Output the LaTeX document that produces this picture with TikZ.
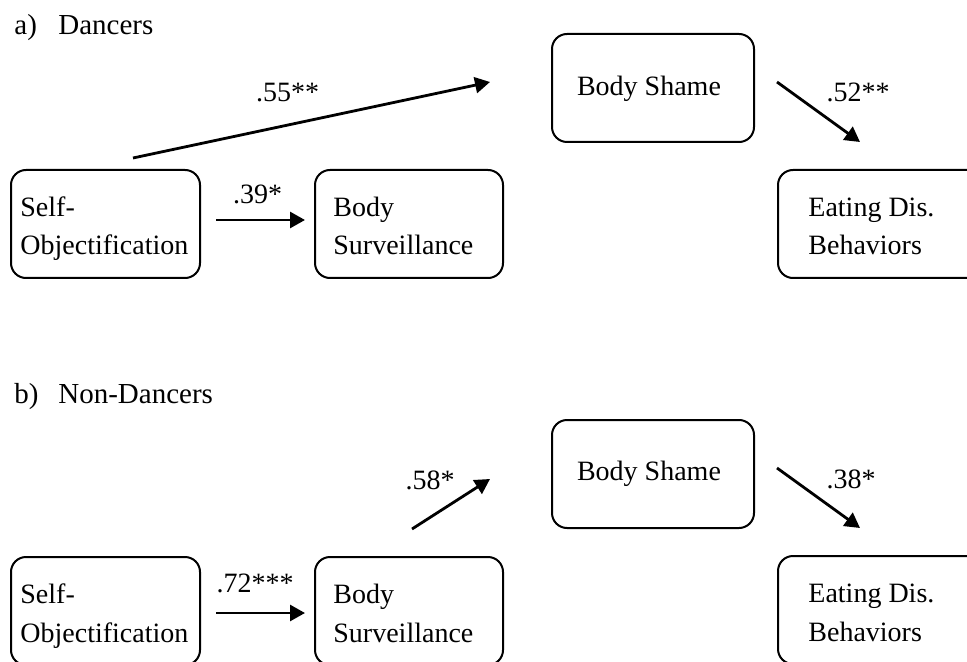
\documentclass[tikz,border=0pt]{standalone}
\usepackage{fontspec}
\setmainfont{Liberation Serif}
\usetikzlibrary{calc,arrows.meta}
\begin{document}
\begin{tikzpicture}[x=0.5pt,y=-0.5pt,
  box/.style={draw, line width=1pt, rounded corners=7.5pt, inner sep=0pt, outer sep=0pt, anchor=north west, minimum height=54pt},
  txt/.style={inner sep=0pt, anchor=base west, font=\fontsize{14}{17}\selectfont},
  lbl/.style={inner sep=0pt, anchor=base, font=\fontsize{14}{17}\selectfont},
  ttl/.style={inner sep=0pt, anchor=base west, font=\fontsize{14.5}{17}\selectfont},
  arr/.style={line width=1.4pt, -{Triangle[length=7.5pt,width=8pt]}}]
\useasboundingbox (0,0) rectangle (967,662);
\clip (0,0) rectangle (967,662);

% ---------- a) Dancers ----------
\node[ttl] (ta) at (14,35) {a)};
\node[ttl] (tad) at (58,35) {Dancers};

\node[box, minimum width=94.5pt] (so) at (11,170) {};
\node[box, minimum width=94pt] (bs) at (315,170) {};
\node[box, minimum width=101pt] (sh) at (552,34) {};
\node[box, minimum width=110pt] (ed) at (778,170) {};

\node[txt] (so1) at (20,217) {Self-};
\node[txt] (so2t) at (20,255) {Objectification};
\node[txt] (bs1) at (333,217) {Body};
\node[txt] (bs2t) at (333,255) {Surveillance};
\node[lbl] (sht) at (649,96) {Body Shame};
\node[txt] (ed1) at (808,217) {Eating Dis.};
\node[txt] (ed2t) at (808,255) {Behaviors};

\coordinate (a1s) at ($(so.east)+(16,-4)$);
\coordinate (a1e) at ($(bs.west)+(-10,-4)$);
\coordinate (a2s) at ($(so.north)+(27.5,-12)$);
\coordinate (a2e) at ($(sh.west)+(-62,-6)$);
\coordinate (a3s) at ($(sh.east)+(23,-6)$);
\coordinate (a3e) at ($(ed.north west)+(82,-28)$);

\draw[arr] (a1s) -- (a1e);
\draw[arr] (a2s) -- (a2e);
\draw[arr] (a3s) -- (a3e);

\node[lbl] (l55) at (287.5,102) {.55**};
\node[lbl] (l39) at (257.5,204) {.39*};
\node[lbl] (l52) at (858,102) {.52**};

% ---------- b) Non-Dancers ----------
\node[ttl] (tb) at (14,403) {b)};
\node[ttl] (tbn) at (58,403) {Non-Dancers};

\node[box, minimum width=94.5pt] (sob) at (11,557) {};
\node[box, minimum width=94pt] (bsb) at (315,557) {};
\node[box, minimum width=101pt] (shb) at (552,420) {};
\node[box, minimum width=110pt] (edb) at (778,556) {};

\node[txt] (sob1) at (20,603) {Self-};
\node[txt] (sob2) at (20,642) {Objectification};
\node[txt] (bsb1) at (333,603) {Body};
\node[txt] (bsb2) at (333,642) {Surveillance};
\node[lbl] (shbt) at (649,480) {Body Shame};
\node[txt] (edb1) at (808,602) {Eating Dis.};
\node[txt] (edb2) at (808,641) {Behaviors};

\coordinate (b1s) at ($(sob.east)+(16,2)$);
\coordinate (b1e) at ($(bsb.west)+(-10,2)$);
\coordinate (b2s) at ($(bsb.north)+(3,-28)$);
\coordinate (b2e) at ($(shb.west)+(-62,5)$);
\coordinate (b3s) at ($(shb.east)+(23,-6)$);
\coordinate (b3e) at ($(edb.north west)+(82,-28)$);

\draw[arr] (b1s) -- (b1e);
\draw[arr] (b2s) -- (b2e);
\draw[arr] (b3s) -- (b3e);

\node[lbl] (l58) at (430,489) {.58*};
\node[lbl] (l72) at (255,592) {.72***};
\node[lbl] (l38) at (851,488) {.38*};
\end{tikzpicture}
\end{document}
